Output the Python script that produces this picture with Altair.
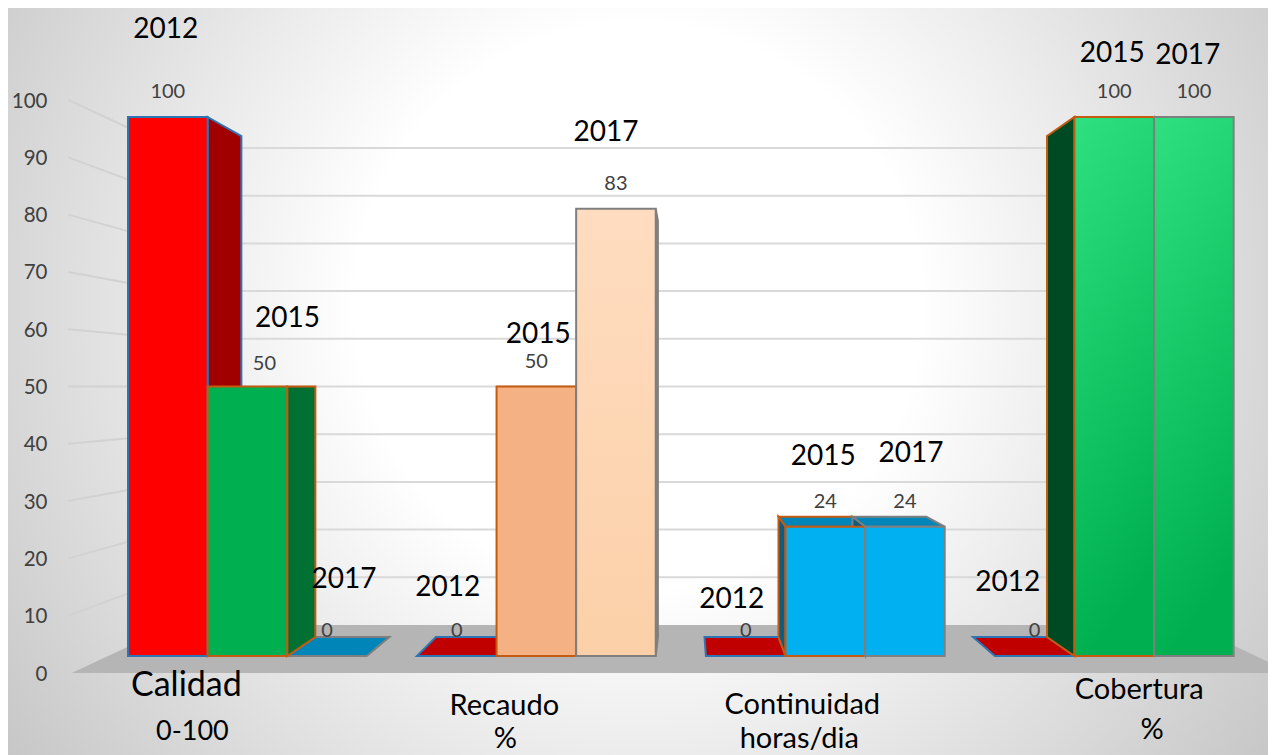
import altair as alt
import pandas as pd

CATEGORIES = ["Calidad", "Recaudo", "Continuidad", "Cobertura"]
YEARS = ["2012", "2015", "2017"]
VALUES = {
    "2012": [100, 0, 0, 0],
    "2015": [50, 50, 24, 100],
    "2017": [0, 83, 24, 100],
}
TICKS = [0, 10, 20, 30, 40, 50, 60, 70, 80, 90, 100]

FRONT = {
    "2012": ["#ff0000", "#c00000", "#c00000", "#c00000"],
    "2015": ["#00b050", "#f4b183", "#00b0f0", "#00b050"],
    "2017": ["#0085b8", "#fbd3b3", "#00b0f0", "#00b050"],
}
SIDE = {
    "2012": ["#a00000", "#800000", "#800000", "#800000"],
    "2015": ["#007033", "#b07a50", "#0f5c80", "#004a23"],
    "2017": ["#005f85", "#c9a88a", "#0f5c80", "#004a23"],
}
TOP_FILL = "#0085b8"
EDGE = {"2012": "#2e75b6", "2015": "#c55a11", "2017": "#7f7f7f"}
GRADIENT_BARS = {("2015", "Cobertura"), ("2017", "Cobertura"), ("2017", "Recaudo")}

# free annotation offsets (px) from each bar's top-centre
YEAR_OFFSETS = {
    "2012": [(-2, -90), (-9, -71), (-14, -59), (-27, -76)],
    "2015": [(40, -71), (2, -55), (-2, -73), (-2, -66)],
    "2017": [(17, -79), (-10, -79), (6, -76), (-6, -64)],
}
VALUE_SHIFT = {("2015", "Calidad"): (17, 2)}
AXIS_TEXT = [
    ("Calidad", 0, -61, 28, 34),
    ("0-100", 0, -55, 74, 27),
    ("Recaudo", 1, -32, 48, 29),
    ("%", 1, -31, 81, 29),
    ("Continuidad", 2, -23, 47, 29),
    ("horas/dia", 2, -26, 81, 29),
    ("Cobertura", 3, 25, 32, 29),
    ("%", 3, 38, 72, 29),
]

# scale set-up
W, H = 1260, 747
SLOT_PX = 79.6
VAL_PX = 5.39
PERIOD = 3.63
VX = 7.01
BAR_D = 0.0706
WALL_FRONT_D = -0.063
WALL_BACK_D = 0.115
X_DOMAIN = [-120 / SLOT_PX, -120 / SLOT_PX + W / SLOT_PX]
Y_DOMAIN = [-(H - 648) / VAL_PX, 100 + 109 / VAL_PX]
AXIS_PX = 5.73
AXIS_DOMAIN = [-(H - 666) / AXIS_PX, 100 + 93 / AXIS_PX]
WALL_L, WALL_R, FLOOR_L = -0.29, 14.17, -0.25

xs = alt.Scale(domain=X_DOMAIN, range=[0, W], nice=False, zero=False)
ys = alt.Scale(domain=Y_DOMAIN, range=[H, 0], nice=False, zero=False)


def project(slot, v, d):
    return VX + (slot - VX) * (1 - d), 50 + (v - 50) * (1 - d)


bars, sides, flats, texts = [], [], [], []
for j, yr in enumerate(YEARS):
    for i, cat in enumerate(CATEGORIES):
        v = VALUES[yr][i]
        left = i * PERIOD + j
        right = left + 1
        grad = (yr, cat) in GRADIENT_BARS
        if v > 0:
            bars.append(dict(x=left, x2=right, y=0, y2=v, fill=FRONT[yr][i],
                             edge=EDGE[yr], grad=grad))
            e = right if left + 0.5 < VX else left
            for d in (0, BAR_D):
                px, top = project(e, v, d)
                _, bot = project(e, 0, d)
                sides.append(dict(face=f"s{yr}{i}", x=px, y=top, y2=bot,
                                  fill=SIDE[yr][i], edge=EDGE[yr]))
        if v < 50:
            fill = FRONT[yr][i] if v == 0 else TOP_FILL
            for d in (0, BAR_D):
                a, yy = project(left, v, d)
                b, _ = project(right, v, d)
                flats.append(dict(face=f"f{yr}{i}", x=a, x2=b, y=yy,
                                  fill=fill, edge=EDGE[yr]))
        cx = left + 0.5
        sx, sy = VALUE_SHIFT.get((yr, cat), (0, 0))
        texts.append(dict(x=cx + sx / SLOT_PX, y=v - sy / VAL_PX, t=str(v)))

value_df = pd.DataFrame(texts)
year_rows = []
for j, yr in enumerate(YEARS):
    for i in range(4):
        dx, dy = YEAR_OFFSETS[yr][i]
        cx = i * PERIOD + j + 0.5
        year_rows.append(dict(x=cx + dx / SLOT_PX, y=VALUES[yr][i] - dy / VAL_PX, t=yr))
year_df = pd.DataFrame(year_rows)

cat_rows = []
for t, i, dx, dy, size in AXIS_TEXT:
    cx = i * PERIOD + 1.5
    cat_rows.append(dict(x=cx + dx / SLOT_PX, y=-dy / VAL_PX, t=t, s=size))
cat_df = pd.DataFrame(cat_rows)

back_y = [project(0, v, WALL_BACK_D)[1] for v in TICKS[1:]]
bl, _ = project(WALL_L, 0, WALL_BACK_D)
br, _ = project(WALL_R, 0, WALL_BACK_D)
grid_back = pd.DataFrame(
    [dict(g=k, x=x, y=y) for k, y in enumerate(back_y) for x in (bl, br)]
)
grid_left = pd.DataFrame(
    [
        dict(g=v, x=project(WALL_L, v, d)[0], y=project(WALL_L, v, d)[1])
        for v in TICKS[1:]
        for d in (WALL_FRONT_D, WALL_BACK_D)
    ]
)
floor_rows = []
for d in (WALL_FRONT_D, WALL_BACK_D):
    floor_rows.append(dict(x=project(FLOOR_L, 0, d)[0], x2=project(WALL_R, 0, d)[0],
                           y=project(0, 0, d)[1], fill="#b5b5b5", face="floor"))
floor_df = pd.DataFrame(floor_rows)
bars_df = pd.DataFrame(bars)
one = pd.DataFrame({"a": [0]})

X = alt.X("x:Q", scale=xs, axis=None)
X2 = alt.X2("x2:Q")
Y = alt.Y("y:Q", scale=ys, axis=None)
Y2 = alt.Y2("y2:Q")
FILL = alt.Fill("fill:N", scale=None, legend=None)
EDGE_ENC = alt.Stroke("edge:N", scale=None, legend=None)

# square rect so that the radial gradient is a true circle; the canvas crops it
background = alt.Chart(one).mark_rect(
    fill=alt.RadialGradient(
        gradient="radial", x1=0.5, y1=0.44, r1=0.0, x2=0.5, y2=0.44, r2=0.62,
        stops=[
            alt.GradientStop(offset=0.0, color="#ffffff"),
            alt.GradientStop(offset=0.36, color="#ffffff"),
            alt.GradientStop(offset=1.0, color="#c6c6c6"),
        ],
    )
).encode(x=alt.value(0), x2=alt.value(W), y=alt.value(-256), y2=alt.value(1004))

floor = alt.Chart(floor_df).mark_area(orient="horizontal").encode(
    x=X, x2=X2, y=Y, fill=FILL, detail="face:N"
)
gb = alt.Chart(grid_back).mark_line(color="#d9d9d9", strokeWidth=2).encode(x=X, y=Y, detail="g:N")
gl = alt.Chart(grid_left).mark_line(color="#d2d2d2", strokeWidth=2).encode(x=X, y=Y, detail="g:N")
flat_layer = alt.Chart(pd.DataFrame(flats)).mark_area(orient="horizontal", strokeWidth=2).encode(
    x=X, x2=X2, y=Y, fill=FILL, stroke=EDGE_ENC, detail="face:N"
)
side_layer = alt.Chart(pd.DataFrame(sides)).mark_area(strokeWidth=2).encode(
    x=X, y=Y, y2=Y2, fill=FILL, stroke=EDGE_ENC, detail="face:N"
)
solid = alt.Chart(bars_df[~bars_df.grad]).mark_rect(strokeWidth=2).encode(
    x=X, x2=X2, y=Y, y2=Y2, fill=FILL, stroke=EDGE_ENC
)
green = bars_df[bars_df.grad & (bars_df.fill == "#00b050")]
peach = bars_df[bars_df.grad & (bars_df.fill != "#00b050")]
green_layer = alt.Chart(green).mark_rect(
    strokeWidth=2,
    fill=alt.LinearGradient(
        gradient="linear", x1=0, y1=0, x2=0.2, y2=1,
        stops=[
            alt.GradientStop(offset=0, color="#2ee07f"),
            alt.GradientStop(offset=1, color="#00b050"),
        ],
    ),
).encode(x=X, x2=X2, y=Y, y2=Y2, stroke=EDGE_ENC)
peach_layer = alt.Chart(peach).mark_rect(
    strokeWidth=2,
    fill=alt.LinearGradient(
        gradient="linear", x1=0, y1=0, x2=0, y2=1,
        stops=[
            alt.GradientStop(offset=0, color="#ffdcc0"),
            alt.GradientStop(offset=1, color="#fbd0a8"),
        ],
    ),
).encode(x=X, x2=X2, y=Y, y2=Y2, stroke=EDGE_ENC)

value_text = alt.Chart(value_df).mark_text(
    font="Lato", fontSize=20, color="#404040", dy=-25, baseline="middle"
).encode(x=X, y=Y, text="t:N")
year_text = alt.Chart(year_df).mark_text(
    font="Lato", fontSize=28, color="#000000", dy=3, baseline="middle"
).encode(x=X, y=Y, text="t:N")
cat_text = alt.Chart(cat_df).mark_text(
    font="Lato", color="#000000", dy=2, baseline="middle"
).encode(x=X, y=Y, text="t:N", size=alt.Size("s:Q", scale=None, legend=None))

axis_layer = alt.Chart(pd.DataFrame({"y": TICKS})).mark_point(opacity=0).encode(
    x=alt.value(0),
    y=alt.Y(
        "y:Q",
        scale=alt.Scale(domain=AXIS_DOMAIN, range=[H, 0], nice=False, zero=False),
        axis=alt.Axis(
            orient="left", values=TICKS, title=None, ticks=False, domain=False, grid=False,
            offset=-39, labelPadding=0, labelFont="Lato", labelFontSize=20.5,
            labelColor="#404040", zindex=1,
        ),
    ),
)

chart = (
    alt.layer(
        background, floor, gb, gl, flat_layer, side_layer, solid, peach_layer, green_layer,
        value_text, year_text, cat_text, axis_layer,
    )
    .resolve_scale(y="independent", fill="independent", stroke="independent", size="independent")
    .properties(width=W, height=H, padding=0, autosize=alt.AutoSizeParams(type="none"))
    .configure_view(stroke=None)
)
chart.save("out.html", embed_options={"renderer": "svg", "actions": False})
